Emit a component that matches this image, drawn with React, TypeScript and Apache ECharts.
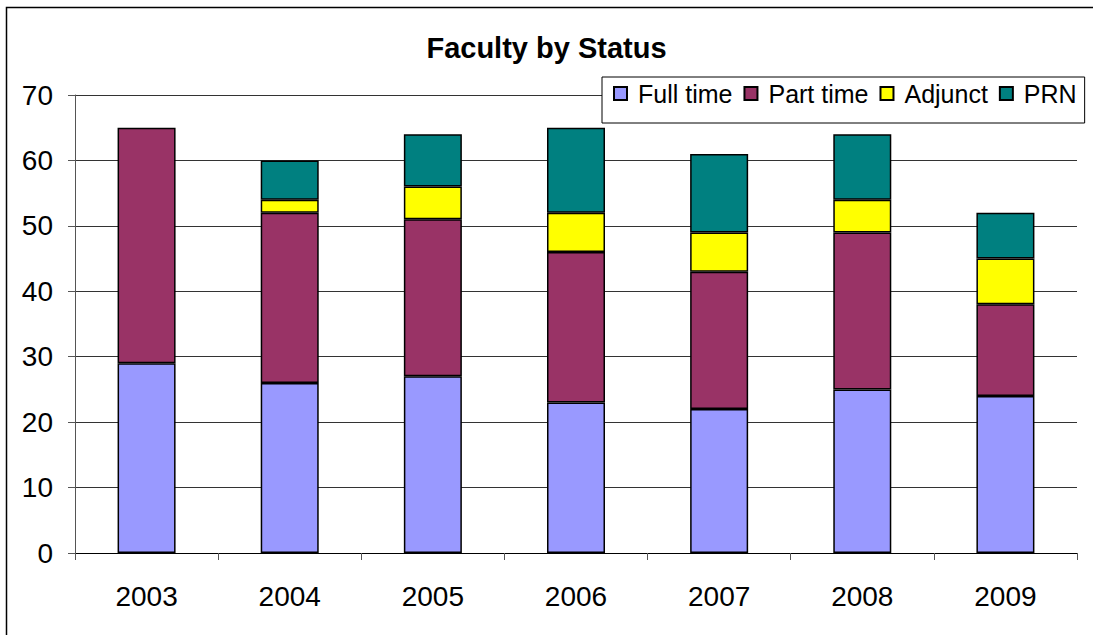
import React, { useEffect, useRef } from "react";
import * as echarts from "echarts";

const years = ["2003", "2004", "2005", "2006", "2007", "2008", "2009"];
const fullTime = [29, 26, 27, 23, 22, 25, 24];
const partTime = [36, 26, 24, 23, 21, 24, 14];
const adjunct = [0, 2, 5, 6, 6, 5, 7];
const prn = [0, 6, 8, 13, 12, 10, 7];
const yTicks = { min: 0, max: 70, interval: 10 };

const FONT = "Liberation Sans, Arial, sans-serif";

export default function App() {
  const ref = useRef<HTMLDivElement>(null);
  useEffect(() => {
    document.body.style.margin = "0";
    const chart = echarts.init(ref.current!, null, { renderer: "svg" });
    const mk = (name: string, data: number[], color: string) => ({
      name,
      type: "bar",
      stack: "total",
      data: data.map((v) => (v === 0 ? null : v)),
      barWidth: 58,
      itemStyle: { color, borderColor: "#000", borderWidth: 1.5 },
      emphasis: { disabled: true },
    });
    chart.setOption({
      animation: false,
      backgroundColor: "#fff",
      textStyle: { fontFamily: FONT },
      title: {
        text: "Faculty by Status",
        left: "center",
        top: 28,
        textStyle: { fontSize: 29, fontWeight: "bold", color: "#000", fontFamily: FONT },
      },
      legend: {
        left: 602,
        top: 77,
        width: 480,
        orient: "horizontal",
        itemWidth: 13,
        itemHeight: 13,
        itemGap: 11,
        padding: [4, 8, 17, 11],
        borderColor: "#000",
        borderWidth: 1,
        backgroundColor: "#fff",
        icon: "rect",
        textStyle: { fontSize: 25, color: "#000", fontFamily: FONT, padding: [0, 0, 0, 6] },
        data: ["Full time", "Part time", "Adjunct", "PRN"],
      },
      grid: { left: 75, right: 16, top: 95, bottom: 82, containLabel: false },
      xAxis: {
        type: "category",
        data: years,
        axisLine: { lineStyle: { color: "#000", width: 1 } },
        axisTick: { show: true, length: 7, inside: false, alignWithLabel: false, lineStyle: { color: "#555" } },
        axisLabel: { fontSize: 28, color: "#000", margin: 29, fontFamily: FONT },
      },
      yAxis: {
        type: "value",
        min: yTicks.min,
        max: yTicks.max,
        interval: yTicks.interval,
        axisLine: { show: true, lineStyle: { color: "#555", width: 1 } },
        axisTick: { show: true, length: 7, lineStyle: { color: "#555" } },
        splitLine: { show: true, lineStyle: { color: "#333", width: 1 } },
        axisLabel: { fontSize: 28, color: "#000", margin: 22, fontFamily: FONT },
      },
      graphic: [
        {
          type: "rect",
          shape: { x: 6.5, y: 7.5, width: 1200, height: 700 },
          style: { fill: "none", stroke: "#000", lineWidth: 1.5 },
          silent: true,
          z: 100,
        },
      ],
      series: [
        mk("Full time", fullTime, "#9999FF"),
        mk("Part time", partTime, "#993366"),
        mk("Adjunct", adjunct, "#FFFF00"),
        mk("PRN", prn, "#008080"),
      ],
    });
    return () => chart.dispose();
  }, []);
  return (
    <div
      ref={ref}
      style={{ position: "absolute", left: 0, top: 0, width: 1093, height: 635 }}
    />
  );
}
